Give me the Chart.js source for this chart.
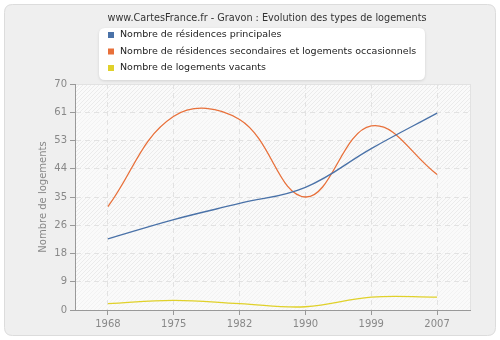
<!DOCTYPE html>
<html>
<head>
<meta charset="utf-8">
<script src="https://cdn.jsdelivr.net/npm/chart.js@4/dist/chart.umd.min.js"></script>
<style>
  html, body { margin: 0; padding: 0; background: #fff; }
</style>
</head>
<body>
<canvas id="c" width="500" height="340"></canvas>
<script>
var years = ['1968', '1975', '1982', '1990', '1999', '2007'];
var principales = [22, 28, 33, 38, 50, 61];
var secondaires = [32, 60, 59, 35, 57, 42];
var vacants = [2, 3, 2, 1, 4, 4];
var yTicks = [0, 9, 18, 26, 35, 44, 53, 61, 70];

var titleText = 'www.CartesFrance.fr - Gravon : Evolution des types de logements';
var FONT = '"DejaVu Sans", Verdana, sans-serif';

function roundRect(ctx, x, y, w, h, r) {
  ctx.beginPath();
  ctx.moveTo(x + r, y);
  ctx.lineTo(x + w - r, y);
  ctx.quadraticCurveTo(x + w, y, x + w, y + r);
  ctx.lineTo(x + w, y + h - r);
  ctx.quadraticCurveTo(x + w, y + h, x + w - r, y + h);
  ctx.lineTo(x + r, y + h);
  ctx.quadraticCurveTo(x, y + h, x, y + h - r);
  ctx.lineTo(x, y + r);
  ctx.quadraticCurveTo(x, y, x + r, y);
  ctx.closePath();
}

// pixel diagonal hatch, tiles without seams
function makeHatch(ctx, col) {
  var p = document.createElement('canvas');
  p.width = 4; p.height = 4;
  var g = p.getContext('2d');
  g.fillStyle = col;
  for (var i = 0; i < 4; i++) g.fillRect(i, 3 - i, 1, 1);
  return ctx.createPattern(p, 'repeat');
}

var decor = {
  id: 'decor',
  beforeDraw: function (chart) {
    var ctx = chart.ctx, a = chart.chartArea, y = chart.scales.y;
    ctx.save();
    ctx.fillStyle = '#ffffff';
    ctx.fillRect(0, 0, 500, 340);
    roundRect(ctx, 4.5, 4.5, 491, 331, 8);
    ctx.fillStyle = '#efefef';
    ctx.fill();
    ctx.strokeStyle = '#dcdcdc';
    ctx.lineWidth = 1;
    ctx.stroke();

    ctx.fillStyle = '#fafafa';
    ctx.fillRect(a.left, a.top, a.right - a.left, a.bottom - a.top);
    var strong = makeHatch(ctx, '#ebebeb'), weak = makeHatch(ctx, '#f2f2f2');
    for (var i = 0; i < yTicks.length - 1; i++) {
      var top = y.getPixelForTick(yTicks.length - 1 - i);
      var bot = y.getPixelForTick(yTicks.length - 2 - i);
      ctx.fillStyle = i % 2 === 0 ? strong : weak;
      ctx.fillRect(a.left, top, a.right - a.left, bot - top);
    }
    ctx.strokeStyle = '#e2e2e2';
    ctx.beginPath();
    ctx.moveTo(a.right + 0.5, a.top);
    ctx.lineTo(a.right + 0.5, a.bottom);
    ctx.moveTo(a.left, a.top + 0.5);
    ctx.lineTo(a.right, a.top + 0.5);
    ctx.stroke();
    ctx.restore();
  },
  afterDraw: function (chart) {
    var ctx = chart.ctx;
    ctx.save();
    ctx.font = '9.7px ' + FONT;
    ctx.fillStyle = '#333';
    ctx.textAlign = 'center';
    ctx.textBaseline = 'middle';
    ctx.fillText(titleText, 267, 18);

    // legend box
    ctx.shadowColor = 'rgba(0,0,0,0.12)';
    ctx.shadowBlur = 3;
    ctx.shadowOffsetY = 1;
    roundRect(ctx, 99, 28, 326, 52, 6);
    ctx.fillStyle = '#ffffff';
    ctx.fill();
    ctx.shadowColor = 'transparent';

    ctx.font = '9.5px ' + FONT;
    ctx.textAlign = 'left';
    chart.data.datasets.forEach(function (ds, i) {
      var cy = 35 + i * 16.5;
      ctx.fillStyle = ds.borderColor;
      ctx.fillRect(108, cy - 3, 6, 6);
      ctx.fillStyle = '#222';
      ctx.fillText(ds.label, 120, cy);
    });
    ctx.restore();
  }
};

new Chart(document.getElementById('c'), {
  type: 'line',
  data: {
    labels: years,
    datasets: [
      { label: 'Nombre de résidences principales', data: principales, borderColor: '#4a72a8' },
      { label: 'Nombre de résidences secondaires et logements occasionnels', data: secondaires, borderColor: '#e8703a' },
      { label: 'Nombre de logements vacants', data: vacants, borderColor: '#e0d12a' }
    ]
  },
  options: {
    responsive: false,
    animation: false,
    layout: { padding: { left: 37, top: 84, right: 30, bottom: 0 } },
    elements: {
      line: { borderWidth: 1.3, tension: 0.4 },
      point: { radius: 0 }
    },
    plugins: {
      legend: { display: false },
      title: { display: false },
      tooltip: { enabled: false }
    },
    scales: {
      x: {
        offset: true,
        afterFit: function (s) { s.height = 30; },
        grid: {
          offset: false,
          color: '#e2e2e2',
          tickColor: '#999',
          tickLength: 5
        },
        border: { color: '#999', dash: [5, 4] },
        ticks: { color: '#888', padding: 3, font: { family: FONT, size: 10 } }
      },
      y: {
        min: 0,
        max: 70,
        afterFit: function (s) { s.width = 38; },
        afterBuildTicks: function (s) {
          s.ticks = yTicks.map(function (v, i) { return { value: i * 70 / (yTicks.length - 1) }; });
        },
        grid: {
          color: '#e2e2e2',
          tickColor: '#999',
          tickLength: 5
        },
        border: { color: '#999', dash: [5, 4] },
        ticks: {
          color: '#888',
          padding: 3,
          font: { family: FONT, size: 10 },
          callback: function (v, i) { return yTicks[i]; }
        },
        title: {
          display: true,
          text: 'Nombre de logements',
          color: '#888',
          padding: 0,
          font: { family: FONT, size: 10 }
        }
      }
    }
  },
  plugins: [decor]
});
</script>
</body>
</html>
